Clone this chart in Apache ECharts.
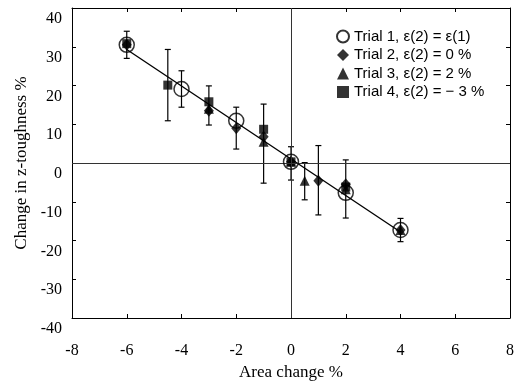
<!DOCTYPE html>
<html>
<head>
<meta charset="utf-8">
<script src="https://cdn.jsdelivr.net/npm/echarts@6/dist/echarts.min.js"></script>
<style>html,body{margin:0;padding:0;background:#fff;}#c{width:517px;height:386px;}</style>
</head>
<body>
<div id="c"></div>
<script>
var xTicks = [-8, -6, -4, -2, 0, 2, 4, 6, 8];
var yTicks = [-40, -30, -20, -10, 0, 10, 20, 30, 40];
var trial1 = [[-6, 30.5], [-4, 19.1], [-2, 10.9], [0, 0.3], [2, -7.7], [4, -17.3]];
var trial2 = [[-6, 30.5], [-3, 13.5], [-2, 9.0], [-1, 6.8], [0, 0.3], [1, -4.6], [2, -5.5], [4, -17.3]];
var trial3 = [[-3, 14.0], [-1, 5.5], [0, 0.3], [0.5, -4.6], [2, -6.8], [4, -17.3]];
var trial4 = [[-6, 30.8], [-4.5, 20.1], [-3, 15.8], [-1, 8.7], [0, 0.3], [2, -6.2]];
var errorBars = [[-6, 27, 34], [-4.5, 10.9, 29.3], [-4, 14.4, 23.8], [-3, 9.8, 19.9], [-2, 3.6, 14.4],
  [-1, -5.2, 15.2], [0, -4.4, 4.2], [0.5, -9.5, 0.1], [1, -13.4, 4.5], [2, -14.2, 0.8], [4, -20.3, -14.3]];
var fitLine = [[-6, 29.3], [4, -17.8]];
var names = ['Trial 1, \u03b5(2) = \u03b5(1)', 'Trial 2, \u03b5(2) = 0 %', 'Trial 3, \u03b5(2) = 2 %', 'Trial 4, \u03b5(2) = \u2212 3 %'];

var chart = echarts.init(document.getElementById('c'), null, {renderer: 'canvas'});
var serif = '"Liberation Serif", "Times New Roman", serif';
var sans = '"Liberation Sans", Arial, sans-serif';
chart.setOption({
  animation: false,
  backgroundColor: '#fff',
  grid: {left: 72, right: 7, top: 8, bottom: 68},
  legend: {
    data: [
      {name: names[0], icon: 'circle'},
      {name: names[1], icon: 'diamond'},
      {name: names[2], icon: 'triangle'},
      {name: names[3], icon: 'rect'}
    ],
    orient: 'vertical',
    left: 331, top: 24,
    itemWidth: 12, itemHeight: 12, itemGap: 3.5,
    textStyle: {fontFamily: sans, fontSize: 15, color: '#000'}
  },
  xAxis: [{
    type: 'value', min: -8, max: 8, interval: 2, position: 'bottom',
    name: 'Area change %', nameLocation: 'middle', nameGap: 46,
    nameTextStyle: {fontFamily: serif, fontSize: 17, color: '#000'},
    axisLine: {show: true, onZero: false, lineStyle: {color: '#000', width: 1}},
    axisTick: {show: true, inside: true, length: 4, lineStyle: {color: '#000'}},
    axisLabel: {fontFamily: serif, fontSize: 16, color: '#000', margin: 25},
    splitLine: {show: false}
  }, {
    type: 'value', min: -8, max: 8, interval: 2, position: 'top',
    axisLine: {show: true, onZero: false, lineStyle: {color: '#000', width: 1}},
    axisTick: {show: true, inside: true, length: 4, lineStyle: {color: '#000'}},
    axisLabel: {show: false}, splitLine: {show: false}
  }],
  yAxis: [{
    type: 'value', min: -40, max: 40, interval: 10, position: 'left',
    name: 'Change in z-toughness %', nameLocation: 'middle', nameGap: 42,
    nameTextStyle: {fontFamily: serif, fontSize: 17, color: '#000'},
    axisLine: {show: true, onZero: false, lineStyle: {color: '#000', width: 1}},
    axisTick: {show: true, inside: true, length: 4, lineStyle: {color: '#000'}},
    axisLabel: {fontFamily: serif, fontSize: 16, color: '#000', margin: 10, verticalAlign: 'top', padding: [3, 0, 0, 0]},
    splitLine: {show: false}
  }, {
    type: 'value', min: -40, max: 40, interval: 10, position: 'right',
    axisLine: {show: true, onZero: false, lineStyle: {color: '#000', width: 1}},
    axisTick: {show: true, inside: true, length: 4, lineStyle: {color: '#000'}},
    axisLabel: {show: false}, splitLine: {show: false}
  }],
  series: [
    {
      type: 'line', data: fitLine, symbol: 'none', silent: true,
      lineStyle: {color: '#000', width: 1.3},
      markLine: {
        silent: true, symbol: 'none', label: {show: false},
        lineStyle: {color: '#333', width: 1, type: 'solid'},
        data: [{xAxis: 0}, {yAxis: 0}]
      },
      z: 2
    },
    {
      type: 'custom', data: errorBars, z: 3, silent: true,
      renderItem: function (params, api) {
        var x = api.value(0);
        var lo = api.coord([x, api.value(1)]);
        var hi = api.coord([x, api.value(2)]);
        var cw = 3;
        var st = {stroke: '#000', lineWidth: 1.2};
        return {
          type: 'group',
          children: [
            {type: 'line', shape: {x1: lo[0], y1: lo[1], x2: hi[0], y2: hi[1]}, style: st},
            {type: 'line', shape: {x1: lo[0] - cw, y1: lo[1], x2: lo[0] + cw, y2: lo[1]}, style: st},
            {type: 'line', shape: {x1: hi[0] - cw, y1: hi[1], x2: hi[0] + cw, y2: hi[1]}, style: st}
          ]
        };
      }
    },
    {
      name: names[3], type: 'scatter', data: trial4, symbol: 'rect', symbolSize: 9,
      itemStyle: {color: '#000'}, z: 4
    },
    {
      name: names[2], type: 'scatter', data: trial3, symbol: 'triangle', symbolSize: 10,
      itemStyle: {color: '#000'}, z: 4
    },
    {
      name: names[1], type: 'scatter', data: trial2, symbol: 'diamond', symbolSize: [10, 12],
      itemStyle: {color: '#000'}, z: 4
    },
    {
      name: names[0], type: 'scatter', data: trial1, symbol: 'circle', symbolSize: 15,
      itemStyle: {color: 'rgba(255,255,255,0)', borderColor: '#000', borderWidth: 1.5}, z: 5
    }
  ]
});
</script>
</body>
</html>
